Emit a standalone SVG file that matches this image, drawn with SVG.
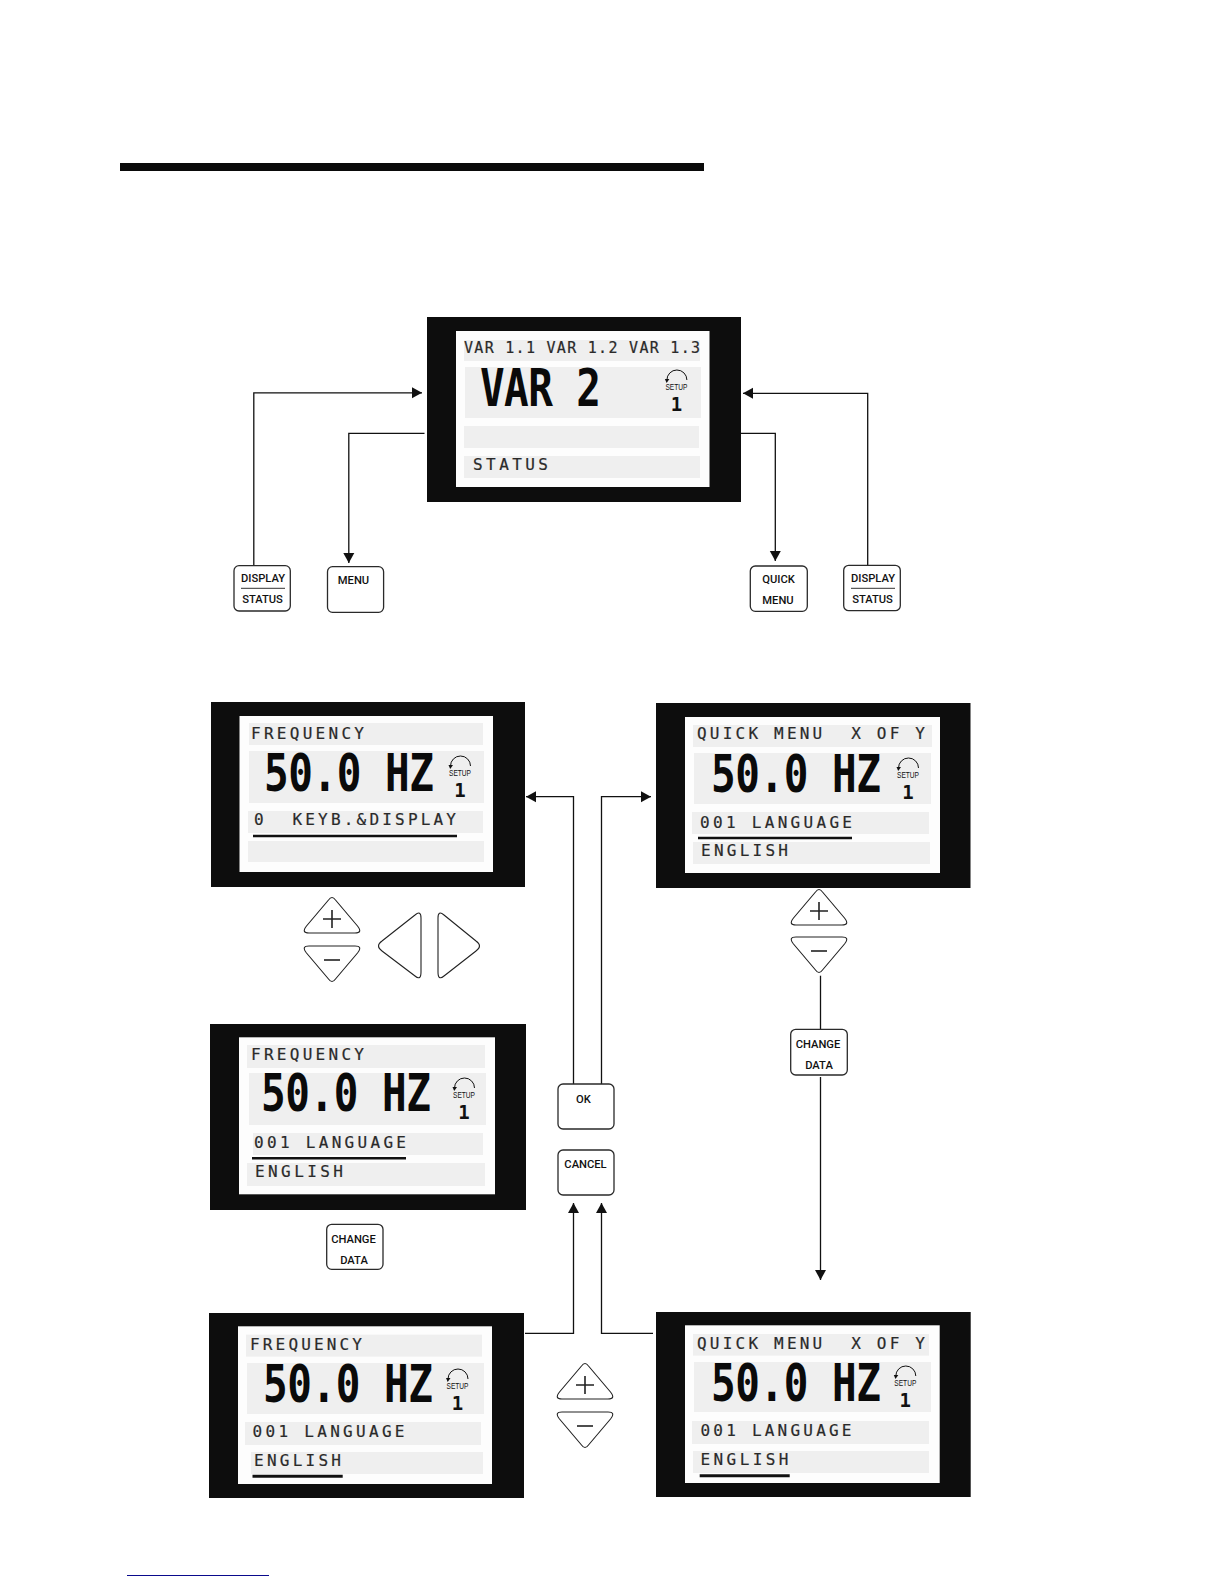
<svg xmlns="http://www.w3.org/2000/svg" width="1224" height="1584" viewBox="0 0 1224 1584">
<style>
.frame{fill:#0d0d0d}
.lcd{fill:#fdfdfd}
.row{fill:#efefef}
.s{font-family:"DejaVu Sans Mono","Liberation Mono",monospace;font-size:16px;fill:#2a2a2a;stroke:#2a2a2a;stroke-width:.2;white-space:pre}
.big{font-family:"DejaVu Sans Mono","Liberation Mono",monospace;font-size:41px;font-weight:bold;fill:#0a0a0a;white-space:pre}
.ul{stroke:#111;stroke-width:2.5;fill:none}
.btn{fill:#fff;stroke:#2a2a2a;stroke-width:1.3}
.key{fill:#fff;stroke:#222;stroke-width:1.1}
.sign{stroke:#222;stroke-width:1.6;fill:none}
.t{font-family:Roboto,"Liberation Sans",sans-serif;font-size:11.2px;font-weight:500;fill:#111;text-anchor:middle}
.conn{fill:none;stroke:#111;stroke-width:1.3}
.div{stroke:#333;stroke-width:1}
.su{font-family:"Liberation Sans",sans-serif;font-size:8.5px;fill:#111;text-anchor:middle}
.one{font-family:"DejaVu Sans Mono",monospace;font-size:19px;font-weight:bold;fill:#111;text-anchor:middle}
</style>
<defs>
<marker id="ah" markerUnits="userSpaceOnUse" markerWidth="11" markerHeight="12" refX="10" refY="6" orient="auto"><path d="M0,0.5 L10,6 L0,11.5 Z" fill="#111"/></marker>
<g id="setup">
<path d="M-9.500,-10 A10,10 0 0 1 10.500,-10" fill="none" stroke="#111" stroke-width="1"/>
<path d="M-11.500,-11 L-7,-11 L-9.800,-7 Z" fill="#111"/>
<text class="su" x="0" y="0" textLength="22" lengthAdjust="spacingAndGlyphs">SETUP</text>
<text class="one" x="0" y="21">1</text>
</g>
<g id="up"><path class="key" d="M-3.500,3 Q0,-2 3.500,3 L25.500,29 Q31,36 23,36 L-23,36 Q-31,36 -25.500,29 Z"/><path class="sign" d="M-9,22 H9 M0,13 V31"/></g>
<g id="down"><path class="key" d="M-3.500,33 Q0,38 3.500,33 L25.500,7 Q31,0 23,0 L-23,0 Q-31,0 -25.500,7 Z"/><path class="sign" d="M-8,14 H8"/></g>
</defs>
<rect x="120" y="163" width="584" height="8" fill="#0a0a0a"/>
<path d="M127,1575.500 H269" stroke="#0a0a8c" stroke-width="1" fill="none"/>

<g id="connectors">
<path class="conn" marker-end="url(#ah)" d="M253.800,566 V392.800 H422"/>
<path class="conn" marker-end="url(#ah)" d="M424.500,433.300 H348.800 V563"/>
<path class="conn" marker-end="url(#ah)" d="M741,433.300 H775.300 V561"/>
<path class="conn" marker-end="url(#ah)" d="M867.700,565 V393.300 H743"/>
<path class="conn" marker-end="url(#ah)" d="M573.500,1084 V796.700 H526"/>
<path class="conn" marker-end="url(#ah)" d="M601.500,1084 V796.700 H651"/>
<path class="conn" d="M820.500,975.700 V1029"/>
<path class="conn" marker-end="url(#ah)" d="M820.500,1077 V1280"/>
<path class="conn" marker-end="url(#ah)" d="M525,1333.300 H573.500 V1203"/>
<path class="conn" marker-end="url(#ah)" d="M653,1333.300 H601.500 V1203"/>
</g>

<g id="display-status">
<rect class="frame" x="427" y="317" width="314" height="185"/>
<rect class="lcd" x="456" y="331" width="253.500" height="156"/>
<rect class="row" x="464" y="340" width="236" height="21"/>
<rect class="row" x="465" y="367" width="236" height="51"/>
<rect class="row" x="464" y="426" width="235" height="22"/>
<rect class="row" x="464" y="456" width="236" height="22"/>
<text class="s" x="464" y="352.700" style="font-size:15px" textLength="236">VAR 1.1 VAR 1.2 VAR 1.3</text>
<text class="big" transform="translate(480,406) scale(1,1.27)" textLength="121">VAR 2</text>
<use href="#setup" x="676.400" y="390"/>
<text class="s" x="473" y="470" textLength="75">STATUS</text>
</g>

<g id="btn-display-left"><rect class="btn" x="234" y="565.700" width="56.300" height="45.300" rx="5"/><text class="t" x="263" y="582.300">DISPLAY</text><path class="div" d="M241,588.300 H285"/><text class="t" x="262.500" y="603.300">STATUS</text></g>
<g id="btn-menu"><rect class="btn" x="327.500" y="566.700" width="56.100" height="45.600" rx="5"/><text class="t" x="353.500" y="584">MENU</text></g>
<g id="btn-quick-menu"><rect class="btn" x="750.300" y="566" width="57" height="45.300" rx="5"/><text class="t" x="778.500" y="583.300">QUICK</text><text class="t" x="778" y="604.300">MENU</text></g>
<g id="btn-display-right"><rect class="btn" x="843.700" y="565.300" width="56.600" height="45.400" rx="5"/><text class="t" x="873" y="582.300">DISPLAY</text><path class="div" d="M851,588.300 H895"/><text class="t" x="872.500" y="603.300">STATUS</text></g>

<g id="display-frequency-menu">
<rect class="frame" x="211" y="702" width="314" height="185"/>
<rect class="lcd" x="239.500" y="716" width="253.500" height="156"/>
<rect class="row" x="249" y="723" width="234" height="22"/>
<rect class="row" x="249" y="751" width="235" height="52"/>
<rect class="row" x="248" y="811" width="235" height="22"/>
<rect class="row" x="248" y="841" width="236" height="21"/>
<text class="s" x="251" y="738.500" textLength="113">FREQUENCY</text>
<text class="big" transform="translate(264,790.700) scale(1,1.27)" textLength="170">50.0 HZ</text>
<use href="#setup" x="460" y="776"/>
<text class="s" x="254" y="825" textLength="202">0  KEYB.&amp;DISPLAY</text>
<path class="ul" d="M253,836 H457"/>
</g>

<g id="keys-nav">
<use href="#up" x="332" y="897"/>
<use href="#down" x="332" y="946"/>
<path class="key" d="M382,941 L415,915 Q421,910 421,918 L421,972 Q421,981 415,976 L382,951 Q375,946 382,941 Z"/>
<path class="key" d="M476,941 L444,915 Q438,910 438,918 L438,972 Q438,981 444,976 L476,951 Q483,946 476,941 Z"/>
</g>

<g id="display-quick-language">
<rect class="frame" x="656" y="703" width="314.500" height="185"/>
<rect class="lcd" x="685" y="717" width="255" height="156"/>
<rect class="row" x="693" y="725" width="239" height="22"/>
<rect class="row" x="694" y="753" width="237" height="51"/>
<rect class="row" x="692" y="812" width="237" height="22"/>
<rect class="row" x="693" y="842" width="237" height="22"/>
<text class="s" x="697" y="739" textLength="228">QUICK MENU  X OF Y</text>
<text class="big" transform="translate(711,792) scale(1,1.27)" textLength="170">50.0 HZ</text>
<use href="#setup" x="908" y="778"/>
<text class="s" x="700" y="827.500" textLength="152">001 LANGUAGE</text>
<path class="ul" d="M698,838 H852"/>
<text class="s" x="701" y="856" textLength="87">ENGLISH</text>
</g>

<g id="keys-quick">
<use href="#up" x="819" y="889"/>
<use href="#down" x="819" y="937"/>
</g>

<g id="btn-change-data-right"><rect class="btn" x="790.700" y="1029.300" width="56.600" height="45.700" rx="5"/><text class="t" x="818" y="1048">CHANGE</text><text class="t" x="819" y="1069">DATA</text></g>

<g id="display-frequency-language">
<rect class="frame" x="210" y="1024" width="316" height="186"/>
<rect class="lcd" x="239" y="1037.300" width="256" height="157"/>
<rect class="row" x="247" y="1045" width="238" height="23"/>
<rect class="row" x="249" y="1073" width="237" height="52"/>
<rect class="row" x="253" y="1133" width="230" height="22"/>
<rect class="row" x="247" y="1163" width="238" height="23"/>
<text class="s" x="251" y="1060" textLength="113">FREQUENCY</text>
<text class="big" transform="translate(261,1111.300) scale(1,1.27)" textLength="170">50.0 HZ</text>
<use href="#setup" x="464" y="1098"/>
<text class="s" x="254" y="1148" textLength="152">001 LANGUAGE</text>
<path class="ul" d="M252,1158.300 H406"/>
<text class="s" x="255" y="1176.700" textLength="88">ENGLISH</text>
</g>

<g id="btn-change-data-left"><rect class="btn" x="326.700" y="1224.300" width="56.300" height="45" rx="5"/><text class="t" x="353.500" y="1242.700">CHANGE</text><text class="t" x="354" y="1264">DATA</text></g>

<g id="btn-ok"><rect class="btn" x="558" y="1084" width="56" height="45" rx="5"/><text class="t" x="583.500" y="1103">OK</text></g>
<g id="btn-cancel"><rect class="btn" x="558" y="1150" width="56" height="45" rx="5"/><text class="t" x="585.500" y="1168">CANCEL</text></g>

<g id="keys-edit">
<use href="#up" x="585" y="1363"/>
<use href="#down" x="585" y="1412"/>
</g>

<g id="display-frequency-value">
<rect class="frame" x="209" y="1313" width="315" height="185"/>
<rect class="lcd" x="238" y="1326.300" width="254" height="157.700"/>
<rect class="row" x="246" y="1334.700" width="236" height="22"/>
<rect class="row" x="247" y="1363" width="237" height="51"/>
<rect class="row" x="245" y="1422" width="236" height="23"/>
<rect class="row" x="251" y="1452" width="232" height="22"/>
<text class="s" x="250" y="1349.500" textLength="112">FREQUENCY</text>
<text class="big" transform="translate(263,1401.700) scale(1,1.27)" textLength="170">50.0 HZ</text>
<use href="#setup" x="457.500" y="1389"/>
<text class="s" x="252.500" y="1437" textLength="152">001 LANGUAGE</text>
<text class="s" x="254" y="1466" textLength="87">ENGLISH</text>
<path class="ul" d="M252.500,1476.300 H342.700" style="stroke-width:3"/>
</g>

<g id="display-quick-value">
<rect class="frame" x="656" y="1312" width="314.700" height="185"/>
<rect class="lcd" x="685" y="1325.300" width="254.700" height="157.700"/>
<rect class="row" x="693" y="1334" width="236" height="21.700"/>
<rect class="row" x="694" y="1362" width="237" height="50"/>
<rect class="row" x="692" y="1421" width="237" height="23"/>
<rect class="row" x="693" y="1451" width="236" height="22"/>
<text class="s" x="697" y="1349.300" textLength="228">QUICK MENU  X OF Y</text>
<text class="big" transform="translate(711,1400.700) scale(1,1.27)" textLength="170">50.0 HZ</text>
<use href="#setup" x="905.300" y="1386"/>
<text class="s" x="700.500" y="1436" textLength="151">001 LANGUAGE</text>
<text class="s" x="700.500" y="1465" textLength="88">ENGLISH</text>
<path class="ul" d="M699.700,1475.800 H789.700" style="stroke-width:3"/>
</g>
</svg>
